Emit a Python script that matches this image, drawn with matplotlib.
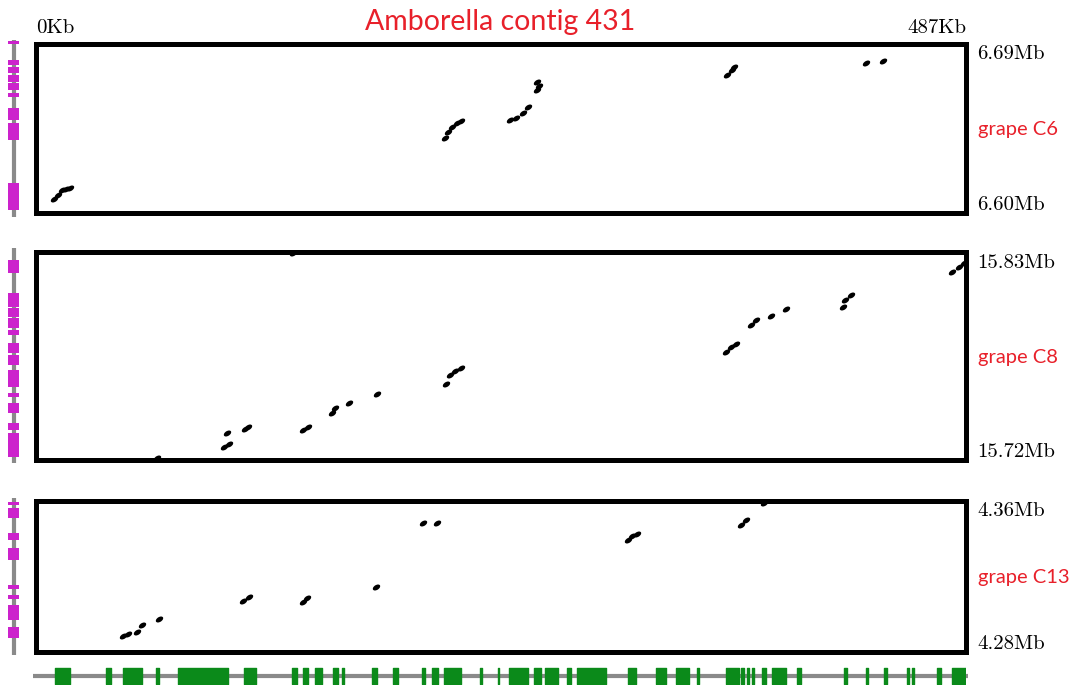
"""Dot plot: Amborella contig 431 against three grape chromosome windows."""

import matplotlib
matplotlib.use("Agg")
import matplotlib.pyplot as plt
from matplotlib.path import Path
from matplotlib.transforms import Affine2D

W, H = 1081, 687
RED = "#e8202a"
MAGENTA = "#cc22cc"
GREEN = "#0b8a1a"
GREY = "#8a8a8a"

CONTIG_KB = 487

# anchor dots: x in Kb along the contig, y in Mb on the grape chromosome
c6_x = [9.4, 11.5, 13.6, 15.7, 17.8, 214.0, 215.5, 217.6, 220.2, 222.8,
        248.0, 251.6, 254.8, 257.4, 262.6, 263.6, 262.1, 362.0, 364.6, 365.6,
        434.7, 443.6]
c6_y = [6.6074, 6.6095, 6.6122, 6.6127, 6.6132, 6.6397, 6.6429, 6.6455, 6.6476,
        6.6487, 6.6492, 6.6503, 6.6529, 6.6561, 6.6694, 6.6672, 6.6651, 6.6731,
        6.6757, 6.6773, 6.6794, 6.6805]

c8_x = [134.4, 63.3, 98.3, 101.0, 99.9, 109.3, 110.9, 139.7, 142.3, 154.8,
        156.4, 163.7, 178.4, 214.5, 216.6, 219.2, 222.8, 361.5, 364.1, 366.7,
        374.5, 377.2, 385.0, 392.8, 422.7, 423.7, 426.9, 479.7, 483.3, 486.0]
c8_y = [15.8295, 15.7211, 15.7269, 15.7285, 15.7343, 15.7364, 15.7375, 15.7359,
        15.7375, 15.7449, 15.7475, 15.7501, 15.7549, 15.7602, 15.7649, 15.7671,
        15.7686, 15.7771, 15.7798, 15.7813, 15.7914, 15.7940, 15.7961, 15.7998,
        15.8009, 15.8046, 15.8073, 15.8194, 15.8221, 15.8242]

c13_x = [45.5, 48.1, 52.8, 55.4, 64.3, 108.3, 111.4, 139.7, 141.8, 177.9,
         202.4, 209.8, 310.2, 312.3, 314.9, 369.3, 371.9, 381.3]
c13_y = [4.2884, 4.2895, 4.2906, 4.2943, 4.2974, 4.3069, 4.3090, 4.3064, 4.3085,
         4.3143, 4.3481, 4.3481, 4.3391, 4.3412, 4.3423, 4.3471, 4.3497, 4.3587]

# grape genes in each window (start, end) in Mb, and extent of the track line
c6_genes = [(6.6895, 6.6911), (6.6784, 6.6815), (6.6746, 6.6773), (6.6694, 6.6731),
            (6.6651, 6.6688), (6.6614, 6.6635), (6.6492, 6.6556), (6.6386, 6.6476),
            (6.6016, 6.6159)]
c8_genes = [(15.8189, 15.8258), (15.8009, 15.8083), (15.7956, 15.8004),
            (15.7898, 15.7951), (15.7861, 15.7887), (15.7766, 15.7819),
            (15.7702, 15.7755), (15.7586, 15.7676), (15.7533, 15.7554),
            (15.7449, 15.7501), (15.7359, 15.7396), (15.7216, 15.7343)]
c13_genes = [(4.3576, 4.3592), (4.3508, 4.3560), (4.3391, 4.3428), (4.3286, 4.3349),
             (4.3133, 4.3154), (4.3080, 4.3101), (4.2969, 4.3048), (4.2874, 4.2932)]

# Amborella genes along the contig (start, end) in Kb
contig_genes = [(9.9, 17.8), (36.6, 39.2), (45.5, 55.4), (62.8, 64.3), (74.3, 100.4),
                (108.8, 115.1), (133.9, 136.5), (139.7, 142.3), (145.9, 149.6),
                (155.4, 158.0), (160.1, 161.1), (175.8, 178.4), (186.7, 189.4),
                (201.9, 203.5), (207.2, 210.3), (213.9, 222.8), (232.3, 233.3),
                (241.7, 242.7), (247.9, 257.4), (261.0, 264.7), (266.3, 273.1),
                (277.8, 280.4), (283.5, 298.7), (310.2, 314.4), (324.8, 330.1),
                (335.3, 342.1), (346.3, 347.3), (361.5, 368.3), (369.3, 370.9),
                (372.4, 373.5), (375.1, 376.1), (380.3, 382.4), (385.5, 392.8),
                (398.6, 400.7), (423.2, 424.8), (434.7, 435.7), (444.1, 445.7),
                (456.1, 457.2), (458.8, 459.8), (471.8, 473.9), (479.7, 487.0)]

panels = [
    # name, lo, hi, lo label, hi label, x, y, genes, track line, pixel top/bottom
    ("grape C6", 6.60, 6.69, "6.60Mb", "6.69Mb", c6_x, c6_y, c6_genes,
     (6.5979, 6.6916), 43.5, 213),
    ("grape C8", 15.72, 15.83, "15.72Mb", "15.83Mb", c8_x, c8_y, c8_genes,
     (15.7184, 15.8321), 252, 460),
    ("grape C13", 4.28, 4.36, "4.28Mb", "4.36Mb", c13_x, c13_y, c13_genes,
     (4.2784, 4.3613), 500.5, 652),
]

# short slanted dash, like the hits in the original
DASH = Path.unit_circle().transformed(Affine2D().scale(1, 0.6).rotate_deg(32))


def box(x0, y0, x1, y1):
    """Pixel box (top-left origin) -> figure fraction rect."""
    return [x0 / W, 1 - y1 / H, (x1 - x0) / W, (y1 - y0) / H]


def ftext(x, y, s, **kw):
    fig.text(x / W, 1 - y / H, s, **kw)


fig = plt.figure(figsize=(W / 100, H / 100), dpi=100)
LEFT, RIGHT = 36, 966
SERIF = "cmr10"

for name, lo, hi, lo_lab, hi_lab, xs, ys, genes, line, top, bot in panels:
    ax = fig.add_axes(box(LEFT, top, RIGHT, bot))
    ax.scatter(xs, ys, s=30, marker=DASH, color="black", linewidths=0,
               clip_on=False, zorder=3)
    ax.set_xlim(0, CONTIG_KB)
    ax.set_ylim(lo, hi)
    ax.set_xticks([])
    ax.set_yticks([])
    for sp in ax.spines.values():
        sp.set_linewidth(3.6)
        sp.set_color("black")

    tr = fig.add_axes(box(5, top, 22, bot))
    tr.set_xlim(0, 1)
    tr.set_ylim(lo, hi)
    tr.axis("off")
    tr.plot([0.5, 0.5], line, color=GREY, lw=3, solid_capstyle="butt", clip_on=False)
    tr.bar([0.5] * len(genes), [e - s for s, e in genes], bottom=[s for s, e in genes],
           width=0.66, color=MAGENTA, clip_on=False, zorder=3)

    ftext(977, top + 11, hi_lab, fontfamily=SERIF, fontsize=15, va="center")
    ftext(977, bot - 8, lo_lab, fontfamily=SERIF, fontsize=15, va="center")
    ftext(978, (top + bot) / 2 + 1, name, fontfamily="Lato", fontsize=14.5,
          color=RED, va="center")

gt = fig.add_axes(box(LEFT, 667, RIGHT, 685))
gt.set_xlim(0, CONTIG_KB)
gt.set_ylim(0, 1)
gt.axis("off")
gt.plot([-1.5, CONTIG_KB + 1], [0.5, 0.5], color=GREY, lw=3, solid_capstyle="butt",
        clip_on=False)
gt.broken_barh([(s, e - s) for s, e in contig_genes], (0.08, 0.84), color=GREEN,
               zorder=3)

ftext(LEFT, 33, "0Kb", fontfamily=SERIF, fontsize=15, va="baseline")
ftext(RIGHT, 33, f"{CONTIG_KB}Kb", fontfamily=SERIF, fontsize=15, va="baseline",
      ha="right")
ftext(500, 22, "Amborella contig 431", fontfamily="Lato", fontsize=20.5, color=RED,
      ha="center", va="center")

fig.savefig("out.png", dpi=100)
